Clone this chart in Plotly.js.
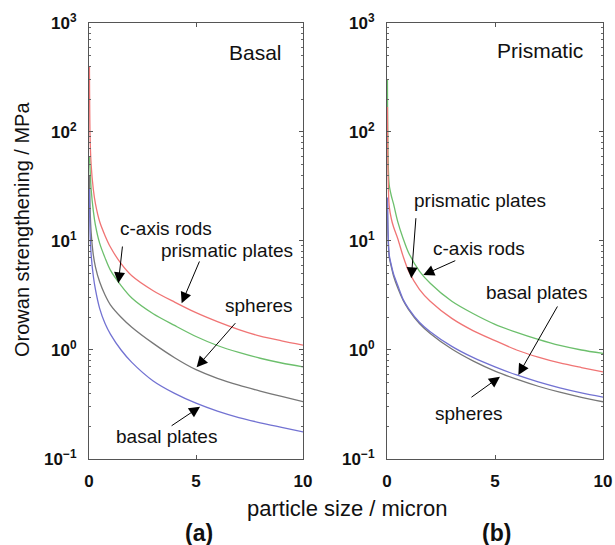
<!DOCTYPE html>
<html>
<head>
<meta charset="utf-8">
<script src="https://cdn.plot.ly/plotly-3.0.1.min.js"></script>
<style>html,body{margin:0;padding:0;background:#fff;}#chart{width:615px;height:545px;}</style>
</head>
<body>
<div id="chart"></div>
<script>
// particle size / micron
const size = [0.02, 0.05, 0.1, 0.2, 0.3, 0.5, 0.75, 1, 1.5, 2, 3, 4, 5, 6, 7, 8, 9, 10];

// (a) Basal
const basalPrismaticPlates = [400, 90, 50, 30, 22, 15, 11.2, 8.8, 6.2, 4.8, 3.5, 2.75, 2.2, 1.82, 1.54, 1.34, 1.215, 1.11];
const basalCAxisRods       = [60, 45, 30, 19, 14, 9.5, 7, 5.4, 3.9, 3.0, 2.15, 1.68, 1.33, 1.1, 0.95, 0.84, 0.76, 0.70];
const basalSpheres         = [40, 20, 12, 7.5, 5.8, 4.2, 3.2, 2.6, 2.0, 1.62, 1.15, 0.85, 0.66, 0.55, 0.475, 0.42, 0.375, 0.336];
const basalBasalPlates     = [30, 12, 7.5, 4.8, 3.6, 2.4, 1.75, 1.4, 1.0, 0.77, 0.52, 0.40, 0.325, 0.275, 0.24, 0.215, 0.195, 0.177];

// (b) Prismatic
const prisPrismaticPlates = [170, 40, 21, 16, 13.5, 10.5, 7.2, 5.3, 3.6, 2.8, 1.95, 1.5, 1.22, 1.0, 0.86, 0.76, 0.69, 0.63];
const prisCAxisRods       = [300, 60, 33, 26, 22, 15, 10.5, 7.8, 5.3, 4.1, 2.8, 2.15, 1.72, 1.45, 1.25, 1.1, 1.0, 0.93];
const prisBasalPlates     = [25, 12, 7.5, 6, 5, 3.9, 2.9, 2.4, 1.8, 1.47, 1.08, 0.85, 0.70, 0.59, 0.51, 0.45, 0.405, 0.37];
const prisSpheres         = [22, 11, 7.2, 5.8, 4.8, 3.7, 2.85, 2.35, 1.75, 1.42, 1.02, 0.79, 0.64, 0.54, 0.465, 0.41, 0.368, 0.335];

const yTickVals = [0.1, 1, 10, 100, 1000];
const yTickText = ['10<sup>−1</sup>', '10<sup>0</sup>', '10<sup>1</sup>', '10<sup>2</sup>', '10<sup>3</sup>'];
const xTickVals = [0, 5, 10];

const RED = '#f07474', GREEN = '#6cbf6c', GRAY = '#777777', BLUE = '#7272d2';

function tr(y, color, xa, ya) {
  return {x: size, y: y, type: 'scatter', mode: 'lines', xaxis: xa, yaxis: ya,
          line: {color: color, width: 1.3, shape: 'spline', smoothing: 0.8}, hoverinfo: 'skip'};
}
const data = [
  tr(basalPrismaticPlates, RED, 'x', 'y'),
  tr(basalCAxisRods, GREEN, 'x', 'y'),
  tr(basalSpheres, GRAY, 'x', 'y'),
  tr(basalBasalPlates, BLUE, 'x', 'y'),
  tr(prisCAxisRods, GREEN, 'x2', 'y2'),
  tr(prisPrismaticPlates, RED, 'x2', 'y2'),
  tr(prisSpheres, GRAY, 'x2', 'y2'),
  tr(prisBasalPlates, BLUE, 'x2', 'y2')
];

const minorVals = [];
for (let e = -1; e < 3; e++) for (let m = 2; m <= 9; m++) minorVals.push(m * Math.pow(10, e));

const FONT = 'Liberation Sans, Arial, Helvetica, sans-serif';
const axisCommon = {showline: true, linecolor: '#555', linewidth: 1, mirror: 'allticks',
  ticks: 'inside', ticklen: 4, tickcolor: '#555', showgrid: false, zeroline: false,
  tickfont: {family: FONT, size: 17, color: '#111', weight: 'bold'}};

function xAxis(dom, anchor) {
  return Object.assign({}, axisCommon, {domain: dom, anchor: anchor, range: [0, 10],
    tickvals: xTickVals, ticktext: ['0', '5', '10'], ticklabelstandoff: 7});
}
function yAxis(anchor) {
  return Object.assign({}, axisCommon, {domain: [0.1578, 0.9578], anchor: anchor, type: 'log',
    range: [-1, 3], tickvals: yTickVals, ticktext: yTickText, ticklabelstandoff: 8,
    minor: {tickvals: minorVals, ticks: 'inside', ticklen: 2, tickcolor: '#666'}});
}

function arrow(xr, yr, hx, hy, tx, ty) {
  return {xref: xr, yref: yr, axref: xr, ayref: yr, x: hx, y: hy, ax: tx, ay: ty,
    text: '', showarrow: true, arrowhead: 2, arrowsize: 2.2, arrowwidth: 1, arrowcolor: '#000'};
}
function label(xr, yr, x, y, t, sz) {
  return {xref: xr, yref: yr, x: x, y: y, text: t, showarrow: false, xanchor: 'center',
    yanchor: 'middle', font: {family: FONT, size: sz || 19, color: '#111'}};
}

const annotations = [
  label('x', 'y', 7.8, 2.725, 'Basal', 21),
  label('x', 'y', 3.6, 1.119, 'c-axis rods'),
  label('x', 'y', 6.45, 0.917, 'prismatic plates'),
  label('x', 'y', 7.94, 0.404, 'spheres'),
  label('x', 'y', 3.64, -0.798, 'basal plates'),
  arrow('x', 'y', 1.37, 0.612, 1.57, 0.963),
  arrow('x', 'y', 4.33, 0.428, 5.19, 0.826),
  arrow('x', 'y', 5.03, -0.159, 6.90, 0.260),
  arrow('x', 'y', 5.19, -0.520, 3.79, -0.704),

  label('x2', 'y2', 7.08, 2.752, 'Prismatic', 21),
  label('x2', 'y2', 4.31, 1.376, 'prismatic plates'),
  label('x2', 'y2', 4.26, 0.927, 'c-axis rods'),
  label('x2', 'y2', 6.90, 0.532, 'basal plates'),
  label('x2', 'y2', 3.80, -0.587, 'spheres'),
  arrow('x2', 'y2', 1.125, 0.658, 1.343, 1.223),
  arrow('x2', 'y2', 1.68, 0.688, 3.23, 0.826),
  arrow('x2', 'y2', 6.08, -0.229, 7.93, 0.413),
  arrow('x2', 'y2', 5.23, -0.245, 3.84, -0.443),

  {xref: 'paper', yref: 'paper', x: 22 / 615, y: (545 - 230) / 545, text: 'Orowan strengthening / MPa',
   textangle: -90, showarrow: false, xanchor: 'center', yanchor: 'middle',
   font: {family: FONT, size: 20, color: '#111'}},
  {xref: 'paper', yref: 'paper', x: 347 / 615, y: (545 - 508) / 545, text: 'particle size / micron',
   showarrow: false, xanchor: 'center', yanchor: 'middle', font: {family: FONT, size: 22, color: '#111'}},
  {xref: 'paper', yref: 'paper', x: 199 / 615, y: (545 - 533) / 545, text: '(a)',
   showarrow: false, xanchor: 'center', yanchor: 'middle', font: {family: FONT, size: 23, color: '#111', weight: 'bold'}},
  {xref: 'paper', yref: 'paper', x: 496 / 615, y: (545 - 533) / 545, text: '(b)',
   showarrow: false, xanchor: 'center', yanchor: 'middle', font: {family: FONT, size: 23, color: '#111', weight: 'bold'}}
];

const layout = {
  width: 615, height: 545, margin: {l: 0, r: 0, t: 0, b: 0},
  paper_bgcolor: '#fff', plot_bgcolor: '#fff', showlegend: false,
  font: {family: FONT, color: '#111'},
  xaxis: xAxis([89 / 615, 303 / 615], 'y'),
  yaxis: yAxis('x'),
  xaxis2: xAxis([387 / 615, 603 / 615], 'y2'),
  yaxis2: yAxis('x2'),
  annotations: annotations
};

Plotly.newPlot('chart', data, layout, {staticPlot: true});
</script>
</body>
</html>
